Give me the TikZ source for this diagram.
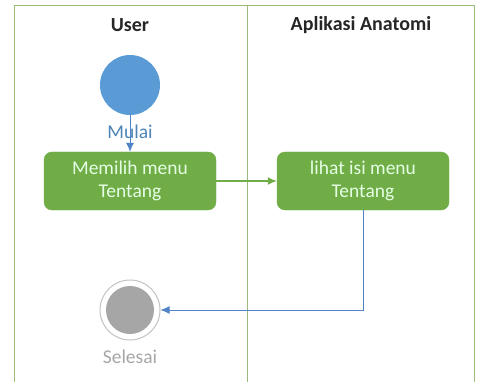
\documentclass[tikz,border=0pt]{standalone}
\usepackage{fontspec}
\setmainfont{Carlito}
\usetikzlibrary{arrows,arrows.meta,positioning,shapes.geometric}
\definecolor{lanegreen}{RGB}{155,185,120}
\definecolor{actgreen}{RGB}{112,173,71}
\definecolor{startblue}{RGB}{91,155,213}
\definecolor{flowblue}{RGB}{80,130,200}
\definecolor{endgray}{RGB}{166,166,166}

\begin{document}
\begin{tikzpicture}[
    x=1pt, y=-1pt,
    >={Latex[length=9pt,width=8pt]},
    font=\fontsize{19.5}{23.5}\selectfont,
    lane/.style={
		draw=lanegreen,
		line width=1pt
	},
	header/.style={
		font=\fontsize{20}{24}\selectfont\bfseries,
		text=black!85
	},
	activity/.style={
		rectangle,
		rounded corners=8pt,
		fill=actgreen,
		draw=actgreen,
		text=white!90!green,
		text centered,
		align=center,
		minimum height=58pt,
		minimum width=172pt
	},
	initial/.style={
		circle,
		fill=startblue,
		minimum size=60pt,
		inner sep=0pt
	},
	final/.style={
		circle,
		draw=endgray!70,
		line width=1pt,
		minimum size=60pt,
		inner sep=0pt
	}
  ]

 \useasboundingbox (0,0) rectangle (484,382);

% // swimlanes
 \draw [lane] (14,382) -- (14,6) -- (474,6) -- (474,382);
 \draw [lane] (247,6) -- (247,382);
 \node [header] (userhead) at (130,25) {User};
 \node [header] (apphead) at (361,25) {Aplikasi Anatomi};

% // start
 \node [initial] (start) at (130,85) {};
 \node [activity] (memilih) at (130,181) {Memilih menu\\Tentang};
 \node [activity] (lihat) at (363,181) {lihat isi menu\\Tentang};

% // end
 \node [final] (stop) at (130,310) {};
 \node [circle, fill=endgray, minimum size=48pt, inner sep=0pt] (stopdot) at (stop) {};
 \node [text=endgray] (selesai) at (130,357) {Selesai};

 \draw [->, flowblue, line width=1pt] (start) -- (memilih);
 \node [text=startblue!85!black] (mulai) at (130,132) {Mulai};
 \draw [->, actgreen, line width=1.1pt] (memilih) -- (lihat);
 \draw [->, flowblue, line width=1pt] (lihat.south) |- (stop.east);

\end{tikzpicture}
\end{document}
